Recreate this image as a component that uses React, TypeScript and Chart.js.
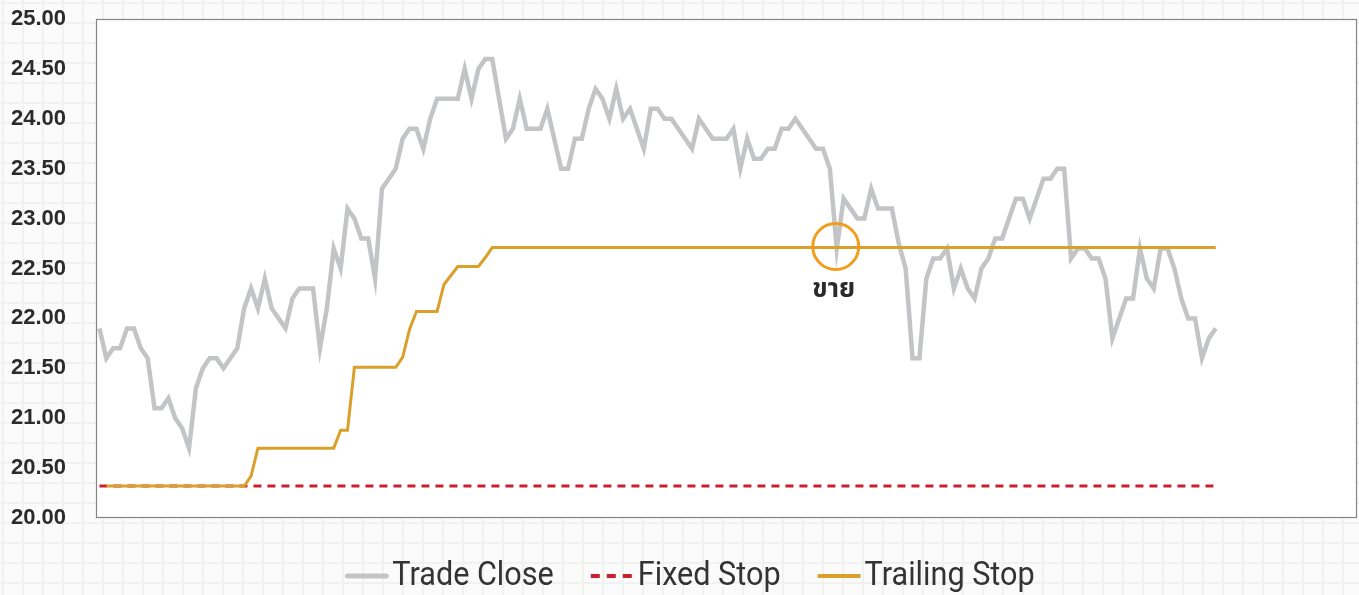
import React, { useEffect, useRef } from "react";
import { Chart, registerables } from "chart.js";

Chart.register(...registerables);

// ---- data ----
const categories: string[] = Array.from({ length: 183 }, (_, i) => String(i + 1));

const tradeClose: number[] = [
  21.9, 21.6, 21.7, 21.7, 21.9, 21.9, 21.7, 21.6, 21.1, 21.1,
  21.2, 21.0, 20.9, 20.7, 21.3, 21.5, 21.6, 21.6, 21.5, 21.6,
  21.7, 22.1, 22.3, 22.1, 22.4, 22.1, 22.0, 21.9, 22.2, 22.3,
  22.3, 22.3, 21.7, 22.1, 22.7, 22.5, 23.1, 23.0, 22.8, 22.8,
  22.4, 23.3, 23.4, 23.5, 23.8, 23.9, 23.9, 23.7, 24.0, 24.2,
  24.2, 24.2, 24.2, 24.5, 24.2, 24.5, 24.6, 24.6, 24.2, 23.8,
  23.9, 24.2, 23.9, 23.9, 23.9, 24.1, 23.8, 23.5, 23.5, 23.8,
  23.8, 24.1, 24.3, 24.2, 24.0, 24.3, 24.0, 24.1, 23.9, 23.7,
  24.1, 24.1, 24.0, 24.0, 23.9, 23.8, 23.7, 24.0, 23.9, 23.8,
  23.8, 23.8, 23.9, 23.5, 23.8, 23.6, 23.6, 23.7, 23.7, 23.9,
  23.9, 24.0, 23.9, 23.8, 23.7, 23.7, 23.5, 22.7, 23.2, 23.1,
  23.0, 23.0, 23.3, 23.1, 23.1, 23.1, 22.75, 22.5, 21.6, 21.6,
  22.4, 22.6, 22.6, 22.7, 22.3, 22.5, 22.3, 22.2, 22.5, 22.6,
  22.8, 22.8, 23.0, 23.2, 23.2, 23.0, 23.2, 23.4, 23.4, 23.5,
  23.5, 22.6, 22.7, 22.7, 22.6, 22.6, 22.4, 21.8, 22.0, 22.2,
  22.2, 22.7, 22.4, 22.3, 22.7, 22.7, 22.5, 22.2, 22.0, 22.0,
  21.6, 21.8, 21.9,
];

const fixedStop: number[] = [
  20.32, 20.32, 20.32, 20.32, 20.32, 20.32, 20.32, 20.32, 20.32, 20.32,
  20.32, 20.32, 20.32, 20.32, 20.32, 20.32, 20.32, 20.32, 20.32, 20.32,
  20.32, 20.32, 20.32, 20.32, 20.32, 20.32, 20.32, 20.32, 20.32, 20.32,
  20.32, 20.32, 20.32, 20.32, 20.32, 20.32, 20.32, 20.32, 20.32, 20.32,
  20.32, 20.32, 20.32, 20.32, 20.32, 20.32, 20.32, 20.32, 20.32, 20.32,
  20.32, 20.32, 20.32, 20.32, 20.32, 20.32, 20.32, 20.32, 20.32, 20.32,
  20.32, 20.32, 20.32, 20.32, 20.32, 20.32, 20.32, 20.32, 20.32, 20.32,
  20.32, 20.32, 20.32, 20.32, 20.32, 20.32, 20.32, 20.32, 20.32, 20.32,
  20.32, 20.32, 20.32, 20.32, 20.32, 20.32, 20.32, 20.32, 20.32, 20.32,
  20.32, 20.32, 20.32, 20.32, 20.32, 20.32, 20.32, 20.32, 20.32, 20.32,
  20.32, 20.32, 20.32, 20.32, 20.32, 20.32, 20.32, 20.32, 20.32, 20.32,
  20.32, 20.32, 20.32, 20.32, 20.32, 20.32, 20.32, 20.32, 20.32, 20.32,
  20.32, 20.32, 20.32, 20.32, 20.32, 20.32, 20.32, 20.32, 20.32, 20.32,
  20.32, 20.32, 20.32, 20.32, 20.32, 20.32, 20.32, 20.32, 20.32, 20.32,
  20.32, 20.32, 20.32, 20.32, 20.32, 20.32, 20.32, 20.32, 20.32, 20.32,
  20.32, 20.32, 20.32, 20.32, 20.32, 20.32, 20.32, 20.32, 20.32, 20.32,
  20.32, 20.32, 20.32,
];

const trailingStop: (number | null)[] = [
  null, 20.32, 20.32, 20.32, 20.32, 20.32, 20.32, 20.32, 20.32, 20.32,
  20.32, 20.32, 20.32, 20.32, 20.32, 20.32, 20.32, 20.32, 20.32, 20.32,
  20.32, 20.32, 20.42, 20.7, 20.7, 20.7, 20.7, 20.7, 20.7, 20.7,
  20.7, 20.7, 20.7, 20.7, 20.7, 20.88, 20.88, 21.51, 21.51, 21.51,
  21.51, 21.51, 21.51, 21.51, 21.61, 21.89, 22.07, 22.07, 22.07, 22.07,
  22.34, 22.43, 22.52, 22.52, 22.52, 22.52, 22.61, 22.71, 22.71, 22.71,
  22.71, 22.71, 22.71, 22.71, 22.71, 22.71, 22.71, 22.71, 22.71, 22.71,
  22.71, 22.71, 22.71, 22.71, 22.71, 22.71, 22.71, 22.71, 22.71, 22.71,
  22.71, 22.71, 22.71, 22.71, 22.71, 22.71, 22.71, 22.71, 22.71, 22.71,
  22.71, 22.71, 22.71, 22.71, 22.71, 22.71, 22.71, 22.71, 22.71, 22.71,
  22.71, 22.71, 22.71, 22.71, 22.71, 22.71, 22.71, 22.71, 22.71, 22.71,
  22.71, 22.71, 22.71, 22.71, 22.71, 22.71, 22.71, 22.71, 22.71, 22.71,
  22.71, 22.71, 22.71, 22.71, 22.71, 22.71, 22.71, 22.71, 22.71, 22.71,
  22.71, 22.71, 22.71, 22.71, 22.71, 22.71, 22.71, 22.71, 22.71, 22.71,
  22.71, 22.71, 22.71, 22.71, 22.71, 22.71, 22.71, 22.71, 22.71, 22.71,
  22.71, 22.71, 22.71, 22.71, 22.71, 22.71, 22.71, 22.71, 22.71, 22.71,
  22.71, 22.71, 22.71,
];

const yTickValues: number[] = [20, 20.5, 21, 21.5, 22, 22.5, 23, 23.5, 24, 24.5, 25];

const sellIndex = 107;
const sellLabel = "ขาย";

const seriesLabels = ["Trade Close", "Fixed Stop", "Trailing Stop"];

// ---- styles ----
const COLOR_CLOSE = "#c3c4c6";
const COLOR_FIXED = "#c8202c";
const COLOR_TRAIL = "#d9a02c";
const COLOR_CIRCLE = "#f39c1e";

const LEGEND_FONT = "34px 'Roboto', 'Liberation Sans', sans-serif";
const LEGEND_SQUEEZE = 0.9;

const plotAreaPlugin = {
  id: "plotArea",
  beforeDraw(chart: any) {
    const { ctx, chartArea } = chart;
    const { left, top, right, bottom } = chartArea;
    ctx.save();
    ctx.fillStyle = "#ffffff";
    ctx.fillRect(left, top, right - left, bottom - top);
    ctx.strokeStyle = "#858585";
    ctx.lineWidth = 1.2;
    ctx.strokeRect(left + 0.5, top + 0.5, right - left - 1, bottom - top - 1);
    ctx.restore();
  },
};

const sellMarkPlugin = {
  id: "sellMark",
  afterDatasetsDraw(chart: any) {
    const { ctx, scales } = chart;
    const v = trailingStop[sellIndex] as number;
    const x = scales.x.getPixelForValue(sellIndex);
    const y = scales.y.getPixelForValue(v);
    ctx.save();
    ctx.beginPath();
    ctx.arc(x - 1, y - 1, 23, 0, Math.PI * 2);
    ctx.strokeStyle = COLOR_CIRCLE;
    ctx.lineWidth = 3;
    ctx.stroke();
    ctx.fillStyle = "#2b2b2b";
    ctx.font = "bold 26px 'Noto Sans Thai', 'Noto Sans', sans-serif";
    ctx.textAlign = "center";
    ctx.textBaseline = "middle";
    ctx.fillText(sellLabel, x - 3, y + 44);
    ctx.restore();
  },
};

const legendPlugin = {
  id: "customLegend",
  afterDraw(chart: any) {
    const { ctx } = chart;
    const datasets = chart.data.datasets;
    ctx.save();
    ctx.font = LEGEND_FONT;
    const sample = 43;
    const gap = 4;
    const spacing = 37;
    const textW = datasets.map((ds: any) => ctx.measureText(ds.label).width * LEGEND_SQUEEZE);
    const widths = textW.map((w: number) => sample + gap + w);
    const total = widths.reduce((a: number, b: number) => a + b, 0) + spacing * (datasets.length - 1);
    let x = 690 - total / 2;
    const y = 576;
    datasets.forEach((ds: any, i: number) => {
      ctx.beginPath();
      ctx.setLineDash(ds.legendDash || []);
      ctx.lineCap = ds.legendCap || "butt";
      ctx.strokeStyle = ds.borderColor;
      ctx.lineWidth = ds.legendWidth || 4;
      const inset = ds.legendCap === "round" ? 2 : 0;
      ctx.moveTo(x + inset, y);
      ctx.lineTo(x + sample - inset, y);
      ctx.stroke();
      ctx.setLineDash([]);
      ctx.fillStyle = "#333333";
      ctx.textAlign = "left";
      ctx.textBaseline = "middle";
      ctx.save();
      ctx.translate(x + sample + gap, y);
      ctx.scale(LEGEND_SQUEEZE, 1);
      ctx.fillText(ds.label, 0, 0);
      ctx.restore();
      x += widths[i] + spacing;
    });
    ctx.restore();
  },
};

export default function App() {
  const canvasRef = useRef<HTMLCanvasElement | null>(null);

  useEffect(() => {
    if (!canvasRef.current) return;
    const chart = new Chart(canvasRef.current, {
      type: "line",
      data: {
        labels: categories,
        datasets: [
          {
            label: seriesLabels[0],
            data: tradeClose,
            borderColor: COLOR_CLOSE,
            borderWidth: 4.5,
            pointRadius: 0,
            tension: 0,
            order: 2,
            legendWidth: 5,
            legendCap: "round",
          } as any,
          {
            label: seriesLabels[1],
            data: fixedStop,
            borderColor: COLOR_FIXED,
            borderWidth: 3,
            borderDash: [8, 6],
            pointRadius: 0,
            tension: 0,
            order: 1,
            legendWidth: 4,
            legendDash: [9, 7],
          } as any,
          {
            label: seriesLabels[2],
            data: trailingStop,
            borderColor: COLOR_TRAIL,
            borderWidth: 3,
            pointRadius: 0,
            tension: 0,
            order: 0,
            spanGaps: false,
            legendWidth: 4,
          } as any,
        ],
      },
      options: {
        responsive: false,
        animation: false,
        events: [],
        layout: { padding: { top: 19, right: 2, bottom: 77, left: 0 } },
        plugins: {
          legend: { display: false },
          tooltip: { enabled: false },
        },
        scales: {
          x: {
            type: "category",
            offset: true,
            display: false,
          },
          y: {
            min: 20,
            max: 25,
            afterFit(scale: any) {
              scale.width = 96;
              scale.paddingTop = 0;
              scale.paddingBottom = 0;
            },
            afterBuildTicks(scale: any) {
              scale.ticks = yTickValues.map((v) => ({ value: v }));
            },
            ticks: {
              padding: 30,
              color: "#2b2b2b",
              font: { family: "'Liberation Sans', Arial, sans-serif", size: 22, weight: "bold" },
              callback: (v: any) => Number(v).toFixed(2),
            },
            grid: { display: false, drawTicks: false },
            border: { display: false },
          },
        },
      },
      plugins: [plotAreaPlugin, sellMarkPlugin, legendPlugin],
    });
    return () => chart.destroy();
  }, []);

  const bg: React.CSSProperties = {
    position: "fixed",
    left: 0,
    top: 0,
    width: 1359,
    height: 595,
    backgroundColor: "#fafbfa",
    backgroundImage:
      "linear-gradient(to right, #eff2ef 2px, transparent 2px), linear-gradient(to bottom, #eff2ef 2px, transparent 2px)",
    backgroundSize: "20px 20px",
    backgroundPosition: "2px 2px",
  };

  return (
    <div style={bg}>
      <canvas ref={canvasRef} width={1359} height={595} style={{ display: "block" }} />
    </div>
  );
}
